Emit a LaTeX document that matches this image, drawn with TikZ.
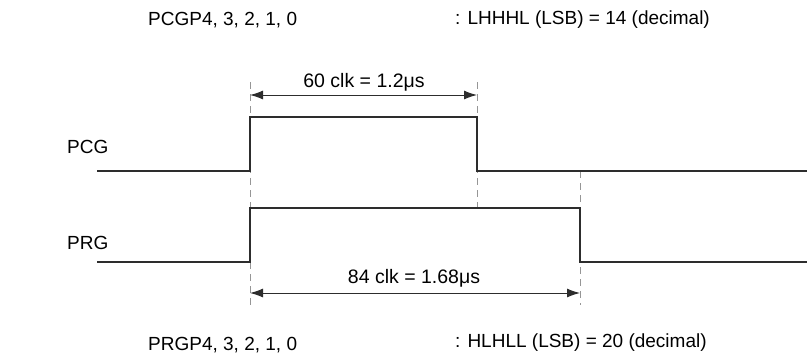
\documentclass[tikz,border=0pt]{standalone}
\usepackage{fontspec}
\setmainfont{Liberation Sans}
\usetikzlibrary{arrows.meta}
\definecolor{tm-wave}{RGB}{45,45,45}
\definecolor{tm-guide}{RGB}{150,150,150}

\begin{document}
\begin{tikzpicture}[x=1pt,y=-1pt,
    wave/.style={tm-wave, line width=1.5pt},
    guide/.style={tm-guide, line width=1pt, dash pattern=on 7pt off 5pt},
    span/.style={tm-wave, line width=1pt,
        {Latex[length=13pt,width=9pt]}-{Latex[length=13pt,width=9pt]}},
    lbl/.style={anchor=base west, inner sep=0pt, font=\fontsize{19}{22}\selectfont},
    clbl/.style={anchor=base, inner sep=0pt, font=\fontsize{19.5}{22}\selectfont}]
    \useasboundingbox (0,0) rectangle (807,354);

    % settings text
    \node[lbl] (pcgbits) at (148,25) {PCGP4, 3, 2, 1, 0};
    \node[lbl] (pcgval) at (455,24) {: LHHHL (LSB) = 14 (decimal)};
    \node[lbl] (prgbits) at (148,350) {PRGP4, 3, 2, 1, 0};
    \node[lbl] (prgval) at (455,347) {: HLHLL (LSB) = 20 (decimal)};

    % signal names
    \node[lbl] (pcg) at (67,153) {PCG};
    \node[lbl] (prg) at (67,249) {PRG};

    % edges
    \coordinate (pcgRise) at (250,95);
    \coordinate (pcgFall) at (477,95);
    \coordinate (prgRise) at (250,293);
    \coordinate (prgFall) at (580,293);

    % guides
    \draw[guide] (250,82) -- (250,305);
    \draw[guide] (477,82) -- (477,208);
    \draw[guide] (580,171) -- (580,305);

    % waveforms
    \draw[wave] (97,171) -- (250,171) -- (250,117) -- (477,117) -- (477,171) -- (807,171);
    \draw[wave] (97,262) -- (250,262) -- (250,208) -- (580,208) -- (580,262) -- (807,262);

    % widths
    \draw[span] (pcgRise) -- (pcgFall);
    \node[clbl] (pcgwidth) at (364,87) {60 clk = 1.2μs};
    \draw[span] (prgRise) -- (prgFall);
    \node[clbl] (prgwidth) at (414,283) {84 clk = 1.68μs};
\end{tikzpicture}
\end{document}
